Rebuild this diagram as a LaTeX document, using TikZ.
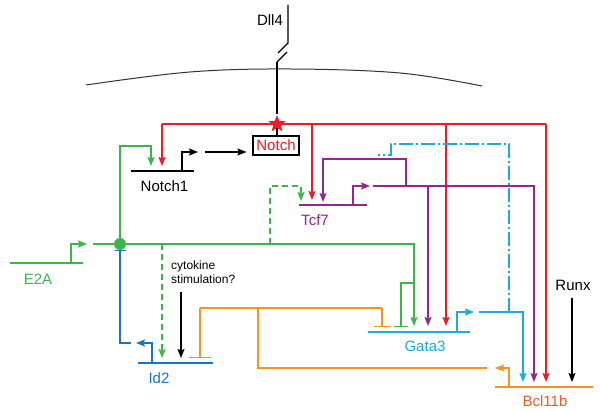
\documentclass[tikz,border=0pt]{standalone}
\usepackage{fontspec}
\setmainfont{Liberation Sans}
\usetikzlibrary{arrows.meta,shapes.geometric}
\definecolor{cred}{HTML}{ED1C24}
\definecolor{cgreen}{HTML}{3DB54A}
\definecolor{cpurple}{HTML}{92278F}
\definecolor{ccyan}{HTML}{1FA9E1}
\definecolor{cblue}{HTML}{1C75BC}
\definecolor{corange}{HTML}{F7941D}
\definecolor{cbcl}{HTML}{F15A29}
\definecolor{cmem}{HTML}{333333}
\begin{document}
\begin{tikzpicture}[x=1pt,y=-1pt,
  conn/.style={line width=1.1pt},
  act/.style={conn,-{Stealth[length=9pt,width=7pt,inset=1.5pt]}},
  inhb/.style={conn,-{Bar[width=#1,line width=1.3pt]}},
  gene/.style={line width=1.5pt},
  lbl/.style={font=\fontsize{15}{18}\selectfont, inner sep=0pt},
  small/.style={font=\fontsize{12}{14}\selectfont, inner sep=0pt, align=left},
  dsh/.style={dash pattern=on 6pt off 4pt},
  dshdot/.style={dash pattern=on 14pt off 3pt on 2pt off 3pt},
]
\useasboundingbox (0,0) rectangle (600,411);

% membrane
\draw[cmem, line width=1pt] plot[smooth, tension=0.6] coordinates {(86,85) (190,72) (290,69) (400,73) (482,86)};

% Dll4 ligand
\node[lbl] (dll4) at (270,20) {Dll4};
\coordinate (dtop) at (288,5);
\coordinate (dk1) at (288,43);
\coordinate (dk2) at (278,53);
\coordinate (dk3) at (287,52);
\coordinate (dk4) at (277,62);
\draw[conn] (dtop) -- (dk1) -- (dk2);
\draw[conn] (dk3) -- (dk4);

% Notch receptor
\node[draw=black, line width=1.1pt, text=cred, lbl, minimum width=46pt, minimum height=19pt] (notch) at (276,145.5) {Notch};
\node[star, star points=5, star point ratio=2.3, fill=cred, inner sep=0pt, minimum size=18pt] (star) at (277,124) {};
\draw[conn] (dk4) -- (star);
\draw[conn] (star) -- (star |- notch.north);

% gene lines
\coordinate (n1a) at (131,171); \coordinate (n1b) at (194,171);
\coordinate (e2a) at (10,263);  \coordinate (e2b) at (83,263);
\coordinate (ida) at (138,363); \coordinate (idb) at (213,363);
\coordinate (tca) at (299,205); \coordinate (tcb) at (367,205);
\coordinate (gaa) at (368,332); \coordinate (gab) at (470,332);
\coordinate (bca) at (495,387); \coordinate (bcb) at (593,387);
\draw[gene, black] (n1a) -- (n1b);
\draw[gene, cgreen] (e2a) -- (e2b);
\draw[gene, cblue] (ida) -- (idb);
\draw[gene, cpurple] (tca) -- (tcb);
\draw[gene, ccyan] (gaa) -- (gab);
\draw[gene, corange] (bca) -- (bcb);

% labels
\node[lbl] (lnotch1) at (164.5,186) {Notch1};
\node[lbl, text=cgreen] (le2a) at (38,279) {E2A};
\node[lbl, text=cblue] (lid2) at (159,378) {Id2};
\node[lbl, text=cpurple] (ltcf7) at (315,220) {Tcf7};
\node[lbl, text=ccyan] (lgata3) at (425,346) {Gata3};
\node[lbl, text=cbcl] (lbcl) at (545,401) {Bcl11b};
\node[lbl] (runx) at (573,285) {Runx};
\node[small, anchor=west] (cyto) at (171,272) {cytokine\\stimulation?};

% promoters
\coordinate (pn1) at (182,171); \coordinate (pn1t) at (198,152);
\coordinate (pe2) at (71,263);  \coordinate (pe2t) at (87,244);
\coordinate (pid) at (152,363); \coordinate (pidt) at (136,343);
\coordinate (ptc) at (353,205); \coordinate (ptct) at (370,186);
\coordinate (pga) at (457,332); \coordinate (pgat) at (474,312);
\coordinate (pbc) at (509,387); \coordinate (pbct) at (495,368);
\draw[act, black] (pn1) |- (pn1t);
\draw[act, cgreen] (pe2) |- (pe2t);
\draw[act, cblue] (pid) |- (pidt);
\draw[act, cpurple] (ptc) |- (ptct);
\draw[act, ccyan] (pga) |- (pgat);
\draw[act, corange] (pbc) |- (pbct);

% Notch1 -> Notch
\coordinate (n1out) at (205,152);
\draw[act, black] (n1out) -- ([xshift=-6pt]notch.west |- n1out);

% Red: Notch signalling
\coordinate (rL) at (162,124); \coordinate (rR) at (546,124);
\draw[conn, cred] (rL) -- (rR);
\draw[act, cred] (rL) -- (162,166);
\draw[act, cred] (312,124) -- (312,200);
\draw[act, cred] (446,124) -- (446,326);
\draw[act, cred] (rR) -- (546,382);

% Green: E2A
\node[circle, fill=cgreen, inner sep=0pt, minimum size=12pt] (dot) at (120,244) {};
\draw[conn, cgreen] (93,244) -- (dot);
\draw[act, cgreen] (dot.north) |- (151,146) -- (151,166);
\coordinate (g1) at (414,244);
\draw[act, cgreen] (dot.east) -- (g1) -- (414,326);
\draw[inhb=14pt, cgreen] (414,283) -| (401,327);
\draw[act, cgreen, dsh] (162,244) -- (162,358);
\draw[act, cgreen, dsh] (270,244) |- (301,186) -- (301,201);

% Blue: Id2 inhibits E2A
\coordinate (idout) at (131,343);
\draw[inhb=11pt, cblue] (idout) -| (dot.south);

% cytokine
\draw[act, black] (cyto.south -| 181,0) ++(0,8) -- (181,358);

% Orange: Bcl11b
\coordinate (bcout) at (487,368);
\draw[conn, corange] (bcout) -- (258,368) -- (258,308);
\draw[conn, corange] (200,308) -- (382,308);
\draw[inhb=22pt, corange] (200,308) -- (200,358);
\draw[inhb=17pt, corange] (382,308) -- (382,327);

% Purple: Tcf7
\coordinate (tcout) at (373,186);
\draw[act, cpurple] (tcout) -- (534,186) -- (534,382);
\draw[act, cpurple] (406,186) |- (323,159) -- (323,202);
\draw[act, cpurple] (428,186) -- (428,326);

% Cyan: Gata3
\coordinate (gaout) at (479,312);
\draw[act, ccyan] (gaout) -| (523,382);
\draw[conn, ccyan, dshdot, line width=1.2pt] (509,312) |- (391,144) -- (391,155) -- (378,155);

% Runx
\draw[act, black] (runx.south) ++(-1,8) -- (572,382);
\end{tikzpicture}
\end{document}
